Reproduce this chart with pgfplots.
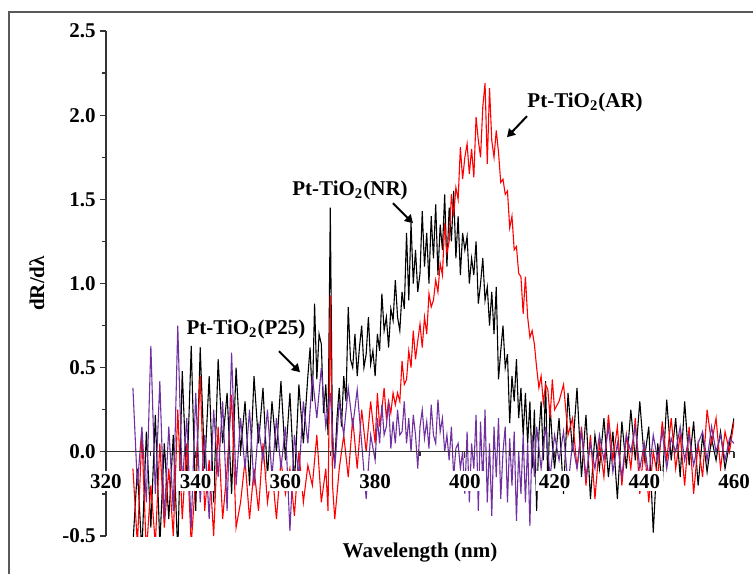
\documentclass[border=0pt]{standalone}
\usepackage{fontspec}
\setmainfont{Liberation Serif}
\usepackage{pgfplots}
\usepackage{pgfplotstable}
\pgfplotsset{compat=1.18}
\usetikzlibrary{arrows.meta}
\definecolor{arred}{RGB}{255,0,0}
\definecolor{p25purple}{RGB}{112,48,160}

% Pt-TiO2(NR), black
\pgfplotstableread[row sep=\\]{x y\\
326 -0.55\\ 327 -0.10\\ 328 -0.60\\ 329 0.12\\ 330 -0.45\\ 331 0.22\\ 332 -0.55\\ 333 0.05\\ 334 -0.40\\ 335 0.10\\
336 -0.60\\ 337 0.48\\ 338 -0.20\\ 339 0.63\\ 340 -0.35\\ 341 0.62\\ 342 -0.10\\ 343 0.45\\ 344 -0.30\\ 345 0.55\\
346 0.05\\ 347 0.35\\ 348 -0.25\\ 349 0.50\\ 350 0.00\\ 351 0.30\\ 352 -0.20\\ 353 0.45\\ 354 0.05\\ 355 0.38\\
356 -0.15\\ 357 0.30\\ 358 0.00\\ 359 0.42\\ 360 -0.05\\ 361 0.35\\ 362 -0.20\\ 363 0.40\\ 364 0.05\\
365 0.45\\ 365.5 0.62\\ 366 0.30\\ 366.5 0.88\\ 367 0.43\\ 367.5 0.70\\ 368 0.64\\ 368.5 0.23\\ 369 0.40\\ 369.5 0.10\\
370 1.45\\ 370.5 0.03\\ 371 -0.07\\ 371.5 0.20\\ 372 0.38\\ 372.5 0.15\\ 373 0.45\\ 373.5 0.30\\ 374 0.86\\ 374.5 0.55\\
375 0.50\\ 375.5 0.70\\ 376 0.45\\ 376.5 0.62\\ 377 0.75\\ 377.5 0.50\\ 378 0.58\\ 378.5 0.80\\ 379 0.52\\ 379.5 0.60\\
380 0.45\\ 380.5 0.70\\ 381 0.60\\ 381.5 0.94\\ 382 0.72\\ 382.5 0.80\\ 383 0.62\\ 383.5 0.85\\ 384 0.78\\ 384.5 1.02\\
385 0.80\\ 385.5 0.72\\ 386 0.95\\ 386.5 0.85\\ 387 1.30\\ 387.5 0.90\\ 388 1.36\\ 388.5 1.00\\ 389 1.20\\ 389.5 0.95\\
390 1.06\\ 390.5 1.43\\ 391 1.10\\ 391.5 1.30\\ 392 1.00\\ 392.5 1.40\\ 393 1.15\\ 393.5 1.47\\ 394 1.05\\ 394.5 1.35\\
395 1.20\\ 395.5 1.53\\ 396 1.10\\ 396.5 1.45\\ 397 1.25\\ 397.5 1.55\\ 398 1.15\\ 398.5 1.40\\ 399 1.05\\ 399.5 1.30\\
400 1.20\\ 400.5 1.28\\ 401 1.00\\ 401.5 1.15\\ 402 1.05\\ 402.5 1.25\\ 403 0.88\\ 403.5 1.00\\ 404 1.15\\ 404.5 0.90\\
405 0.98\\ 405.5 0.75\\ 406 0.95\\ 406.5 0.70\\ 407 0.98\\ 407.5 0.43\\ 408 0.60\\ 408.5 0.75\\ 409 0.50\\ 409.5 0.58\\
410 0.17\\ 410.5 0.45\\ 411 0.30\\ 411.5 0.55\\ 412 0.20\\ 412.5 0.38\\ 413 0.10\\ 413.5 0.35\\ 414 0.05\\ 414.5 0.30\\
415 -0.10\\ 415.5 0.25\\ 416 -0.35\\ 416.5 0.10\\ 417 0.30\\ 417.5 -0.05\\ 418 0.42\\ 418.5 -0.20\\ 419 0.28\\ 419.5 0.05\\
420 -0.10\\ 421 0.20\\ 422 -0.25\\ 423 0.35\\ 424 0.00\\ 425 0.38\\ 426 -0.15\\ 427 0.22\\ 428 -0.28\\ 429 0.10\\
430 -0.10\\ 431 0.20\\ 432 -0.15\\ 433 0.12\\ 434 -0.28\\ 435 0.18\\ 436 -0.10\\ 437 0.25\\ 438 -0.05\\ 439 0.30\\
440 -0.05\\ 441 0.15\\ 442 -0.48\\ 443 0.05\\ 444 -0.20\\ 445 0.31\\ 446 -0.05\\ 447 0.20\\ 448 -0.15\\ 449 0.30\\
450 -0.08\\ 451 0.18\\ 452 -0.20\\ 453 0.10\\ 454 -0.12\\ 455 0.08\\ 456 -0.05\\ 457 0.12\\ 458 -0.10\\ 459 0.05\\
460 0.20\\
}\nrdata

% Pt-TiO2(AR), red
\pgfplotstableread[row sep=\\]{x y\\
326 -0.10\\ 327 -0.55\\ 328 0.10\\ 329 -0.60\\ 330 -0.20\\ 331 -0.55\\ 332 0.05\\ 333 -0.45\\ 334 -0.10\\ 335 -0.50\\
336 0.25\\ 337 -0.40\\ 338 0.05\\ 339 -0.55\\ 340 -0.15\\ 341 0.45\\ 342 -0.35\\ 343 -0.05\\ 344 -0.50\\ 345 0.15\\
346 -0.40\\ 347 -0.10\\ 348 0.34\\ 349 -0.45\\ 350 -0.30\\ 351 -0.05\\ 352 -0.40\\ 353 -0.10\\ 354 -0.35\\ 355 0.05\\
356 -0.30\\ 357 -0.10\\ 358 -0.40\\ 359 -0.05\\ 360 -0.25\\ 361 -0.10\\ 362 -0.38\\ 363 0.00\\ 364 -0.30\\ 365 -0.08\\
366 -0.20\\ 367 0.10\\ 368 -0.30\\ 369 -0.10\\ 369.5 -0.35\\ 370 0.93\\ 370.5 -0.20\\ 371 -0.40\\ 372 -0.10\\ 373 0.10\\
374 -0.15\\ 375 0.20\\ 376 -0.10\\ 377 0.25\\ 378 0.00\\ 379 0.30\\
380 0.05\\ 380.5 0.35\\ 381 0.15\\ 381.5 0.25\\ 382 0.38\\ 382.5 0.20\\ 383 0.30\\ 383.5 0.23\\ 384 0.35\\ 384.5 0.28\\
385 0.35\\ 385.5 0.30\\ 386 0.54\\ 386.5 0.40\\ 387 0.43\\ 387.5 0.60\\ 388 0.50\\ 388.5 0.72\\ 389 0.55\\ 389.5 0.66\\
390 0.76\\ 390.5 0.62\\ 391 0.80\\ 391.5 0.70\\ 392 0.94\\ 392.5 0.86\\ 393 0.90\\ 393.5 1.02\\ 394 0.95\\ 394.5 1.12\\
395 1.05\\ 395.5 1.36\\ 396 1.18\\ 396.5 1.25\\ 397 1.53\\ 397.5 1.40\\ 398 1.57\\ 398.5 1.50\\ 399 1.81\\ 399.5 1.62\\
400 1.75\\ 400.5 1.83\\ 401 1.65\\ 401.5 1.80\\ 402 1.63\\ 402.5 1.99\\ 403 1.85\\ 403.5 1.75\\ 404 2.05\\ 404.5 2.19\\
405 1.71\\ 405.5 2.16\\ 406 1.85\\ 406.5 1.75\\ 407 1.91\\ 407.5 1.78\\ 408 1.60\\ 408.5 1.62\\ 409 1.53\\ 409.5 1.55\\
410 1.33\\ 410.5 1.40\\ 411 1.20\\ 411.5 1.22\\ 412 1.06\\ 412.5 1.04\\ 413 0.82\\ 413.5 1.04\\ 414 0.80\\ 414.5 0.68\\
415 0.72\\ 415.5 0.64\\ 416 0.50\\ 416.5 0.38\\ 417 0.45\\ 417.5 0.29\\ 418 0.40\\ 418.5 0.37\\ 419 0.20\\ 419.5 0.43\\
420 0.25\\ 421 0.30\\ 422 0.40\\ 423 0.10\\ 424 0.20\\ 425 -0.10\\ 426 0.15\\ 427 -0.20\\ 428 0.10\\ 429 -0.28\\
430 0.05\\ 431 -0.15\\ 432 0.22\\ 433 -0.05\\ 434 0.15\\ 435 -0.20\\ 436 0.10\\ 437 -0.10\\ 438 0.20\\ 439 -0.25\\
440 0.05\\ 441 -0.30\\ 442 0.00\\ 443 -0.15\\ 444 0.18\\ 445 -0.05\\ 446 0.20\\ 447 -0.10\\ 448 0.10\\ 449 -0.20\\
450 0.15\\ 451 -0.25\\ 452 0.05\\ 453 -0.15\\ 454 0.25\\ 455 0.05\\ 456 0.20\\ 457 -0.10\\ 458 0.12\\ 459 0.00\\
460 0.18\\
}\ardata

% Pt-TiO2(P25), purple
\pgfplotstableread[row sep=\\]{x y\\
326 0.38\\ 327 -0.20\\ 328 0.15\\ 329 -0.30\\ 330 0.63\\ 331 -0.25\\ 332 0.42\\ 333 -0.40\\ 334 0.15\\ 335 -0.35\\
336 0.75\\ 337 -0.20\\ 338 0.20\\ 339 -0.45\\ 340 0.35\\ 341 -0.30\\ 342 0.10\\ 343 -0.40\\ 344 0.25\\ 345 -0.15\\
346 0.30\\ 347 -0.35\\ 348 0.59\\ 349 -0.20\\ 350 0.20\\ 351 -0.10\\ 352 0.25\\ 353 -0.20\\ 354 0.15\\ 355 -0.05\\
356 0.25\\ 357 -0.15\\ 358 0.20\\ 359 -0.10\\ 360 0.15\\ 361 -0.47\\ 362 0.10\\ 363 -0.15\\ 364 0.30\\ 365 0.05\\
366 0.45\\ 367 0.20\\ 368 0.50\\ 369 0.15\\ 370 0.35\\ 371 -0.10\\ 372 0.30\\ 373 0.10\\ 374 0.38\\ 375 0.15\\
376 0.37\\ 377 0.05\\ 378 -0.28\\ 379 0.10\\
380 -0.05\\ 380.5 0.20\\ 381 0.05\\ 381.5 0.28\\ 382 0.10\\ 382.5 0.15\\ 383 0.30\\ 383.5 0.02\\ 384 0.18\\ 384.5 0.05\\
385 0.25\\ 385.5 0.10\\ 386 0.12\\ 386.5 0.30\\ 387 0.05\\ 387.5 0.20\\ 388 0.00\\ 388.5 0.22\\ 389 0.10\\ 389.5 -0.10\\
390 0.15\\ 390.5 0.25\\ 391 0.08\\ 391.5 0.18\\ 392 0.02\\ 392.5 0.28\\ 393 0.10\\ 393.5 0.05\\ 394 0.31\\ 394.5 0.12\\
395 0.20\\ 395.5 0.00\\ 396 0.10\\ 396.5 -0.05\\ 397 0.15\\ 397.5 -0.15\\ 398 0.02\\ 398.5 0.05\\ 399 -0.10\\ 399.5 0.00\\
400 -0.25\\ 400.5 0.12\\ 401 -0.30\\ 401.5 0.05\\ 402 -0.10\\ 402.5 0.22\\ 403 -0.35\\ 403.5 0.18\\ 404 -0.20\\ 404.5 0.25\\
405 -0.30\\ 405.5 0.05\\ 406 -0.38\\ 406.5 0.15\\ 407 -0.15\\ 407.5 0.20\\ 408 -0.28\\ 408.5 0.00\\ 409 0.15\\ 409.5 -0.30\\
410 0.08\\ 410.5 -0.20\\ 411 0.12\\ 411.5 -0.41\\ 412 0.00\\ 412.5 -0.25\\ 413 0.10\\ 413.5 -0.30\\ 414 0.05\\ 414.5 -0.44\\
415 0.10\\ 415.5 -0.15\\ 416 0.15\\ 417 -0.10\\ 418 0.15\\ 419 -0.15\\ 420 0.10\\ 421 -0.05\\ 422 0.12\\ 423 -0.20\\
424 0.05\\ 425 -0.10\\ 426 0.12\\ 427 -0.15\\ 428 0.05\\ 429 -0.10\\ 430 0.10\\ 431 -0.05\\ 432 0.15\\ 433 -0.12\\
434 0.05\\ 435 -0.15\\ 436 0.10\\ 437 0.00\\ 438 0.15\\ 439 -0.10\\ 440 0.05\\ 441 -0.15\\ 442 0.10\\ 443 -0.05\\
444 0.12\\ 445 -0.10\\ 446 0.08\\ 447 0.00\\ 448 0.15\\ 449 -0.05\\ 450 0.10\\ 451 -0.08\\ 452 0.05\\ 453 0.12\\
454 -0.05\\ 455 0.15\\ 456 0.00\\ 457 0.10\\ 458 -0.05\\ 459 0.08\\ 460 0.05\\
}\ptwofivedata

\begin{document}
\fontsize{10.5}{12}\selectfont\bfseries
\begin{tikzpicture}
\useasboundingbox (-53pt,-18.5pt) rectangle (323.5pt,268pt);
\draw[black!65, line width=0.9pt] (-48.5pt,-20pt) -- (-48.5pt,262pt) -- (325pt,262pt);
\begin{axis}[
    scale only axis,
    width=314pt, height=252.5pt,
    xmin=320, xmax=460, ymin=-0.5, ymax=2.5,
    axis x line*=middle, axis y line*=left,
    hide obscured x ticks=false, hide obscured y ticks=false,
    axis on top,
    xtick={320,340,360,380,400,420,440,460},
    xticklabels={320,340,360,380,400,420,440,460},
    ytick={-0.5,0,0.5,1,1.5,2,2.5},
    yticklabels={-0.5,0.0,0.5,1.0,1.5,2.0,2.5},
    minor x tick num=1, minor y tick num=1,
    tick align=outside,
    major tick length=3pt, minor tick length=2pt,
    tick style={black!80, line width=0.6pt},
    axis line style={black!80, line width=0.6pt},
    xticklabel style={fill=white, inner sep=1.5pt, yshift=-6.5pt},
    yticklabel style={xshift=1.5pt},
    xlabel={Wavelength (nm)},
    ylabel={dR/dλ},
    x label style={at={(axis description cs:0.5,-0.032)}, anchor=center},
    y label style={at={(axis description cs:-0.11,0.5)}, anchor=center},
]
\addplot[black, line width=0.55pt, mark=none] table[x=x, y=y] {\nrdata};
\addplot[arred, line width=0.55pt, mark=none] table[x=x, y=y] {\ardata};
\addplot[p25purple, line width=0.55pt, mark=none] table[x=x, y=y] {\ptwofivedata};

\draw[line width=1pt, -{Triangle[length=4pt, width=4.5pt]}] (axis cs:383.98,1.477) -- (axis cs:388.44,1.358);
\draw[line width=1pt, -{Triangle[length=4pt, width=4.5pt]}] (axis cs:413.85,1.994) -- (axis cs:409.39,1.869);
\draw[line width=1pt, -{Triangle[length=4pt, width=4.5pt]}] (axis cs:358.56,0.598) -- (axis cs:363.25,0.473);
\node at (axis cs:374.4,1.553) {Pt-TiO\textsubscript{2}(NR)};
\node at (axis cs:426.8,2.077) {Pt-TiO\textsubscript{2}(AR)};
\node at (axis cs:351.2,0.729) {Pt-TiO\textsubscript{2}(P25)};
\end{axis}
\end{tikzpicture}
\end{document}
